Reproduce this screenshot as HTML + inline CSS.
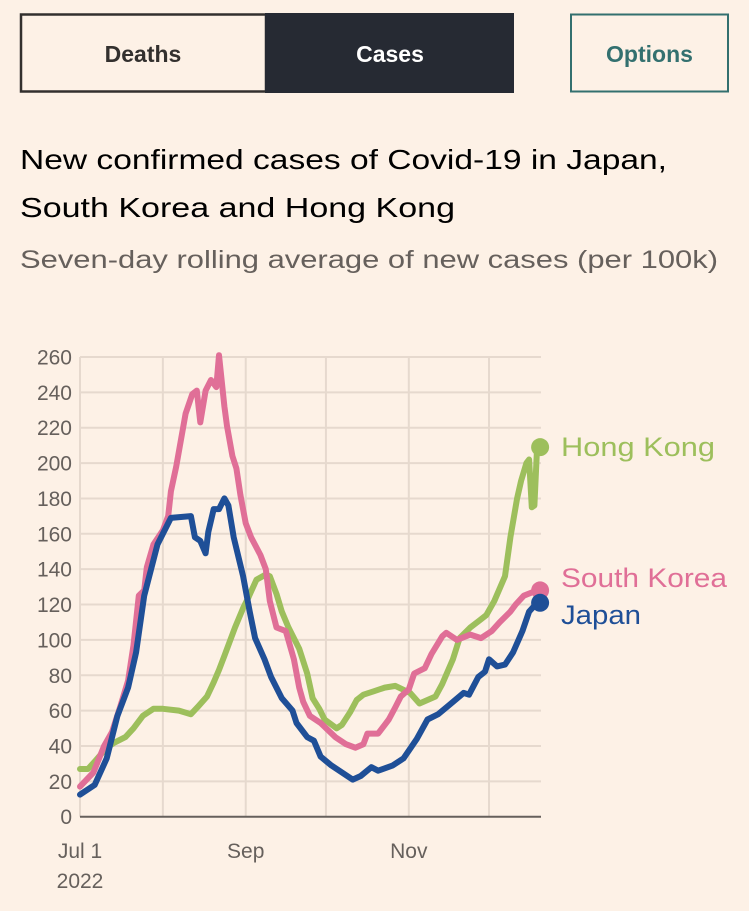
<!DOCTYPE html>
<html><head><meta charset="utf-8">
<style>
html,body{margin:0;padding:0;background:#fdf1e6;}
svg{display:block;font-family:"Liberation Sans",sans-serif;}
</style></head>
<body>
<svg id="c" width="749" height="911" viewBox="0 0 749 911" xmlns="http://www.w3.org/2000/svg">
<rect width="749" height="911" fill="#fdf1e6"/>
<g>
<rect x="21" y="14.5" width="245" height="77" fill="#fdf1e6" stroke="#33302e" stroke-width="2.5"/>
<text x="143" y="62" text-anchor="middle" font-size="23" font-weight="bold" fill="#33302e">Deaths</text>
</g>
<g>
<rect x="265" y="13" width="249" height="80" fill="#262a33"/>
<text x="390" y="62" text-anchor="middle" font-size="23" font-weight="bold" fill="#ffffff">Cases</text>
</g>
<g>
<rect x="571" y="14.5" width="157" height="77" fill="#fdf1e6" stroke="#33706f" stroke-width="2"/>
<text x="649.5" y="62" text-anchor="middle" font-size="23" font-weight="bold" fill="#33706f">Options</text>
</g>
<text x="20" y="169" font-size="28" fill="#000" textLength="647" lengthAdjust="spacingAndGlyphs">New confirmed cases of Covid-19 in Japan,</text>
<text x="20" y="217" font-size="28" fill="#000" textLength="435" lengthAdjust="spacingAndGlyphs">South Korea and Hong Kong</text>
<text x="20" y="268" font-size="25" fill="#66605c" textLength="698" lengthAdjust="spacingAndGlyphs">Seven-day rolling average of new cases (per 100k)</text>
<g id="grid"></g>
<g id="yaxis"></g>
<g id="xaxis"></g>
<g id="series"></g>
</svg>
<script>
const yTicks=[0,20,40,60,80,100,120,140,160,180,200,220,240,260];
const xTickDays=[0,31,62,92,123,153];
const xTickLabels=["Jul 1","","Sep","","Nov",""];
const japanDays=[0,5.5,10,14,18,21,24,29,34,41.5,43,45,47,48,50,52,54,55.5,57.5,61,63.5,65.5,69,71.5,75.5,79.5,81,85,87.5,90,94,98,102,105,109,111.5,117,121,126,130,134,138,143.5,145.5,149,151.5,153,156,159,162,165.5,168,171];
const japanVals=[12.5,18,33,57,73,93,125,154,169,170,158,156,149,161,174,174,180,176,158,136,116,101,89,79,67,60,53,45,43,34,29,25,21,23,28,26,29,33,44,55,58,63,70,69,79,82,89,85,86,93,105,116,121];
const koreaDays=[0,5,9,12,15,18,20,22,24,25,27.5,31,33,34,36,39.5,42,43.7,45,47,49,51,52,54,55,57,58.5,60,62,64,67.5,69.5,71,73.5,77,80,82,83.5,86,90,95.5,99.5,103,106,107.5,111.5,115.5,118,120,123,125,129,131.5,135.5,137,141,146,150,154,157,161,163,166,171];
const koreaVals=[17,25,40,48,62,77,97,125,128,141,154,162,170,184,198,228,239,241,223,241,247,243,261,232,221,204,197,182,166,158,148,140,122,107,105,89,73,65,57,53,45,41,39,41,47,47,55,62,68,72,81,84,92,102,104,100,103,101,105,110,116,120,125,128];
const hkDays=[0,3,6,10,13,17,20,23.5,27.5,31,37,41.5,44,47.5,50,52,54,58,61,63,66,69.5,71,73.5,75.5,78,82,85,87,89.5,91.5,96,98,101,103.5,106,110,114,118,123.5,127,133,135.5,139.5,142,146,149.5,152,155,159,161,163.5,165,167,168,169,170,171];
const hkVals=[27,27,32,39,42,45,50,57,61,61,60,58,62,68,76,83,91,107,118,124,134,137,136,126,116,107,95,81,67,61,55,50,52,59,66,69,71,73,74,70,64,68,75,89,101,107,111,114,122,136,158,180,190,200,202,175,176,209];
const X0=80,PXD=(489-80)/153,Y0=816.7,PXV=(816.7-357)/260;
function xs(d){return X0+d*PXD;}
function ys(v){return Y0-v*PXV;}
const NS="http://www.w3.org/2000/svg";
function mk(t,a,p){const e=document.createElementNS(NS,t);for(const k in a)e.setAttribute(k,a[k]);p.appendChild(e);return e;}
const grid=document.getElementById('grid'),ya=document.getElementById('yaxis'),xa=document.getElementById('xaxis'),se=document.getElementById('series');
yTicks.forEach(v=>{
 if(v>0){const l=mk('line',{x1:X0,x2:541,y1:ys(v),y2:ys(v),stroke:'#e6d9ce','stroke-width':2},grid);
 
 }
 const t=mk('text',{x:72,y:ys(v)+7.5,'text-anchor':'end','font-size':21,fill:'#66605c'},ya);t.textContent=v;
 
 
});
xTickDays.forEach((d,i)=>{
 const l=mk('line',{x1:xs(d),x2:xs(d),y1:357,y2:Y0,stroke:'#e6d9ce','stroke-width':2},grid);
 
 
 if(xTickLabels[i]){const t=mk('text',{x:xs(d),y:858,'text-anchor':'middle','font-size':21,fill:'#66605c'},xa);t.textContent=xTickLabels[i];
 
 }
});
const yr=mk('text',{x:xs(0),y:888,'text-anchor':'middle','font-size':21,fill:'#66605c'},xa);yr.textContent='2022';


const ax=mk('line',{x1:X0,x2:541,y1:Y0,y2:Y0,stroke:'#66605c','stroke-width':2},xa);


function drawSeries(days,vals,col,name,label,ly,tl){
 let d='';days.forEach((x,i)=>{d+=(i?'L':'M')+xs(x).toFixed(1)+','+ys(vals[i]).toFixed(1);});
 const p=mk('path',{d:d,fill:'none',stroke:col,'stroke-width':6,'stroke-linejoin':'round','stroke-linecap':'round'},se);
 
 
 const n=days.length-1;
 const c=mk('circle',{cx:xs(days[n])+3,cy:ys(vals[n]),r:9,fill:col},se);
 
 
 const t=mk('text',{x:561,y:ly,'font-size':27,fill:col,textLength:tl,lengthAdjust:'spacingAndGlyphs'},se);t.textContent=label;
 
 
}
drawSeries(hkDays,hkVals,'#9dbf5c','hong-kong','Hong Kong',456,154);
drawSeries(koreaDays,koreaVals,'#e06f97','south-korea','South Korea',587,166);
drawSeries(japanDays,japanVals,'#1f4f97','japan','Japan',624,80);
</script>
</body></html>
